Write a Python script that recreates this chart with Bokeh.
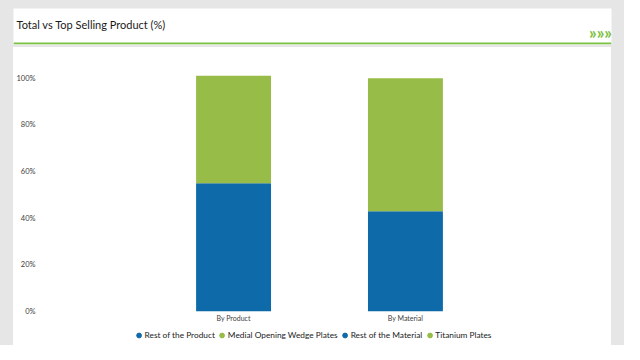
from bokeh.plotting import figure
from bokeh.layouts import column, row
from bokeh.models import (ColumnDataSource, FactorRange, Range1d, FixedTicker, Spacer,
                          PrintfTickFormatter, Legend, LegendItem, Label, BoxAnnotation)
from bokeh.embed import file_html
from bokeh.resources import INLINE

# ---- data ----
categories = ["By Product", "By Material"]
series_names = ["Rest of the Product", "Medial Opening Wedge Plates",
                "Rest of the Material", "Titanium Plates"]
rest_product = [55, 0]
medial_opening = [46, 0]
rest_material = [0, 43]
titanium = [0, 57]
y_ticks = [0, 20, 40, 60, 80, 100]
title_text = "Total vs Top Selling Product (%)"

BLUE = "#0f6aa9"
GREEN = "#97bd48"
series_colors = [BLUE, GREEN, BLUE, GREEN]
FONT = "Lato"
GREY_BG = "#e6e6e6"
ACCENT = "#7dc142"


def bare(fig):
    fig.axis.visible = False
    fig.grid.visible = False
    return fig


# ---- header panel ----
header = bare(figure(width=624, height=47, x_range=Range1d(0, 598), y_range=Range1d(0, 36),
                     toolbar_location=None, output_backend="svg",
                     min_border_left=13, min_border_right=13, min_border_top=8, min_border_bottom=3,
                     background_fill_color="white", border_fill_color=GREY_BG,
                     outline_line_color=None))
header.add_layout(BoxAnnotation(bottom=0, top=2, fill_color=ACCENT, fill_alpha=1,
                                line_color=None))
header.add_layout(Label(x=3, y=20, text=title_text, text_font=FONT, text_font_size="11px",
                        text_color="#1a1a1a", text_baseline="middle"))
header.add_layout(Label(x=587, y=12, text="»»»", text_font=FONT,
                        text_font_style="bold", text_font_size="17px", text_color=ACCENT,
                        text_align="center", text_baseline="middle"))

# ---- chart panel ----
source = ColumnDataSource(dict(cat=categories, s0=rest_product, s1=medial_opening,
                               s2=rest_material, s3=titanium))
p = figure(width=598, height=277, x_range=FactorRange(*categories, range_padding=0.6),
           y_range=Range1d(0, 105), toolbar_location=None, output_backend="svg",
           min_border_left=30, min_border_right=17, min_border_top=19, min_border_bottom=13,
           background_fill_color="white", border_fill_color="white", outline_line_color=None,
           styles={"background-color": "white"})
p.vbar_stack(["s0", "s1", "s2", "s3"], x="cat", width=0.436, color=series_colors,
             line_color=None, source=source)
p.grid.visible = False
p.yaxis.ticker = FixedTicker(ticks=y_ticks)
p.yaxis.formatter = PrintfTickFormatter(format="%d%%")
for ax in (p.xaxis[0], p.yaxis[0]):
    ax.axis_line_color = None
    ax.major_tick_line_color = None
    ax.minor_tick_line_color = None
    ax.major_tick_out = 0
    ax.major_tick_in = 0
    ax.minor_tick_out = 0
    ax.minor_tick_in = 0
    ax.major_label_text_font = FONT
    ax.major_label_text_color = "#404040"
p.yaxis.major_label_text_font_size = "7.5px"
p.yaxis.major_label_standoff = 9
p.xaxis.major_label_text_font_size = "7px"
p.xaxis.major_label_standoff = 2

# ---- legend strip ----
lg = bare(figure(width=598, height=21, x_range=Range1d(0, 1), y_range=Range1d(0, 1),
                 toolbar_location=None, output_backend="svg", min_border=0,
                 background_fill_color="white", border_fill_color="white",
                 outline_line_color=None, styles={"background-color": "white"}))
items = []
for name, c in zip(series_names, series_colors):
    r = lg.scatter(x=[0.5], y=[float("nan")], marker="circle", color=c)
    items.append(LegendItem(label=name, renderers=[r]))
lg.add_layout(Legend(items=items, orientation="horizontal", location="center",
                     label_text_font=FONT, label_text_font_size="8.3px",
                     label_text_color="#222222", glyph_width=12, glyph_height=12,
                     label_height=10, label_standoff=0, spacing=1, padding=4, margin=0,
                     border_line_color=None, background_fill_alpha=0))

layout = column(
    header,
    row(Spacer(width=13, height=277), p, Spacer(width=13, height=277)),
    row(Spacer(width=13, height=21), lg, Spacer(width=13, height=21)),
    spacing=0, styles={"background-color": GREY_BG},
)

open("out.html", "w").write(file_html(layout, INLINE))
